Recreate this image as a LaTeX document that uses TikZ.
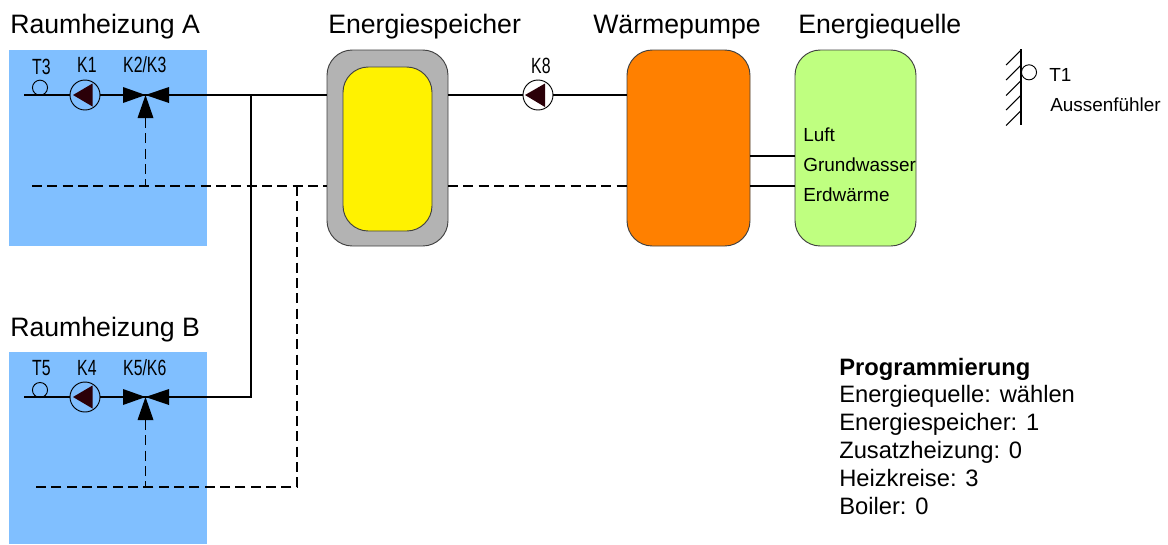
\documentclass[tikz,border=0pt]{standalone}
\usepackage{fontspec}
\setmainfont{Liberation Sans}
\definecolor{heizblau}{RGB}{128,191,255}
\definecolor{speichergrau}{RGB}{179,179,179}
\definecolor{quellgruen}{RGB}{191,255,128}
\definecolor{pumpenrot}{RGB}{43,0,8}

\begin{document}
\begin{tikzpicture}[x=0.75pt,y=-0.75pt,
    pipe/.style={line width=1.1pt},
    signal/.style={line width=1.1pt,dash pattern=on 7.5pt off 4pt},
    kreis/.style={fill=heizblau,minimum width=148pt,inner sep=0pt,anchor=north west},
    tank/.style={draw=black!75,line width=0.7pt,rounded corners=19pt,inner sep=0pt},
    pump/.style={draw,circle,line width=0.7pt,minimum size=22.5pt,inner sep=0pt},
    fuehler/.style={draw,circle,line width=0.7pt,minimum size=11.3pt,inner sep=0pt},
    titel/.style={font=\fontsize{20}{24}\selectfont,inner sep=0pt,anchor=base west},
    klein/.style={font=\fontsize{16.5}{20}\selectfont,xscale=0.72,inner sep=0pt,anchor=base west},
    quelle/.style={font=\fontsize{14.2}{17}\selectfont,inner sep=0pt,anchor=base west},
    prog/.style={font=\fontsize{17.8}{21}\selectfont,inner sep=0pt,anchor=base west}]

\useasboundingbox (0,0) rectangle (1168,544);

% Heizkreise
\node[kreis,minimum height=147pt] (raumA) at (9,50) {};
\node[kreis,minimum height=144pt] (raumB) at (9,352) {};

% Speicher, Pumpe, Quelle
\node[tank,fill=speichergrau,minimum width=90.75pt,minimum height=147pt] (speicher) at (387.5,148) {};
\node[tank,fill=yellow,minimum width=66.75pt,minimum height=123pt] (kern) at (387.5,149) {};
\node[tank,fill=orange!0!white,fill={rgb,255:red,255;green,128;blue,0},minimum width=92.25pt,minimum height=147pt] (waermepumpe) at (688.5,148) {};
\node[tank,fill=quellgruen,minimum width=90.75pt,minimum height=147pt] (quelle) at (855.5,148) {};

% Punkte der Leitungen
\coordinate (startA) at (24,95);
\coordinate (startB) at (24,397);
\coordinate (abzweig) at (251,95);
\coordinate (knick) at (251,397);
\coordinate (tankein) at (327,95);
\coordinate (tankaus) at (448,95);
\coordinate (wpein) at (627,95);
\coordinate (signalA) at (32,186);
\coordinate (signalB) at (32,487);
\coordinate (ventilfussA) at (145.5,118);
\coordinate (ventilfussB) at (145.5,420);
\coordinate (signalfussA) at (145.5,186);
\coordinate (signalfussB) at (145.5,487);
\coordinate (signalab) at (297,186);
\coordinate (signalecke) at (297,487);
\coordinate (signalein) at (327,186);
\coordinate (signalaus) at (448,186);
\coordinate (signalwp) at (627,186);
\coordinate (wpluft) at (750,156);
\coordinate (wperd) at (750,186);
\coordinate (ql) at (795,156);
\coordinate (qe) at (795,186);
\coordinate (ventilA) at (145.5,95);
\coordinate (ventilB) at (145.5,397);

% Pumpen und Fuehler
\node[pump] (pumpeA) at (85,95) {};
\node[pump] (pumpeB) at (85,397) {};
\node[pump,fill=white] (pumpeW) at (538,95) {};
\node[fuehler] (fuehlerA) at (40,87.7) {};
\node[fuehler] (fuehlerB) at (40,390) {};
\node[fuehler] (fuehlerAussen) at (1029,72.3) {};

% Leitungen
\draw[pipe] (startA) -- (pumpeA);
\draw[pipe] (pumpeA) -- (ventilA) -- (tankein);
\draw[pipe] (startB) -- (pumpeB);
\draw[pipe] (pumpeB) -- (ventilB) -- (knick) -- (abzweig);
\draw[pipe] (tankaus) -- (pumpeW);
\draw[pipe] (pumpeW) -- (wpein);
\draw[pipe,line width=0.9pt] (wpluft) -- (ql);
\draw[pipe,line width=0.9pt] (wperd) -- (qe);

% Signalleitungen
\draw[signal] (signalA) -- (signalein);
\draw[signal] (signalaus) -- (signalwp);
\draw[signal] (ventilfussA) -- (signalfussA);
\draw[signal] (ventilfussB) -- (signalfussB);
\draw[signal] (signalab) -- (signalecke) -- (signalB);

% Ventile
\fill (ventilA) -- (123,87) -- (123,103) -- cycle;
\fill (ventilA) -- (169,87) -- (169,103) -- cycle;
\fill (ventilA) -- (137.5,118) -- (153.5,118) -- cycle;
\fill (ventilB) -- (123,389) -- (123,405) -- cycle;
\fill (ventilB) -- (169,389) -- (169,405) -- cycle;
\fill (ventilB) -- (137.5,420) -- (153.5,420) -- cycle;

% Pumpenpfeile
\fill[pumpenrot] (73,95) -- (92.5,83.5) -- (92.5,106.5) -- cycle;
\fill[pumpenrot] (73,397) -- (92.5,385.5) -- (92.5,408.5) -- cycle;
\fill[pumpenrot] (525,95) -- (545,83.5) -- (545,107) -- cycle;

% Aussenfuehler Wand
\coordinate (wandoben) at (1021,49);
\coordinate (wandunten) at (1021,125);
\draw[line width=0.8pt] (wandoben) -- (wandunten);
\foreach \y in {50,65,80.5,95,110.5}
  \draw[line width=0.8pt] (1021,\y) -- (1006,\y+15);

% Titel
\node[titel] (titelA) at (10,33) {Raumheizung A};
\node[titel] (titelB) at (10,336) {Raumheizung B};
\node[titel] (titelS) at (328,33) {Energiespeicher};
\node[titel] (titelW) at (593,33) {Wärmepumpe};
\node[titel] (titelQ) at (798,33) {Energiequelle};

% Bezeichnungen
\node[klein] (t3) at (32,74) {T3};
\node[klein] (k1) at (77,72) {K1};
\node[klein] (k23) at (123,72) {K2/K3};
\node[klein] (t5) at (32,375) {T5};
\node[klein] (k4) at (77,375) {K4};
\node[klein] (k56) at (123,375) {K5/K6};
\node[klein] (k8) at (531,73) {K8};

\node[quelle] (luft) at (803,141) {Luft};
\node[quelle] (grund) at (803,171) {Grundwasser};
\node[quelle] (erd) at (803,201) {Erdwärme};
\node[quelle] (t1) at (1049,81) {T1};
\node[quelle] (aussen) at (1050,111) {Aussenfühler};

% Programmierung
\node[prog] (p0) at (839,375) {\textbf{Programmierung}};
\node[prog] (p1) at (839,402) {Energiequelle: wählen};
\node[prog] (p2) at (839,430) {Energiespeicher: 1};
\node[prog] (p3) at (839,458) {Zusatzheizung: 0};
\node[prog] (p4) at (839,486) {Heizkreise: 3};
\node[prog] (p5) at (839,514) {Boiler: 0};

\end{tikzpicture}
\end{document}
